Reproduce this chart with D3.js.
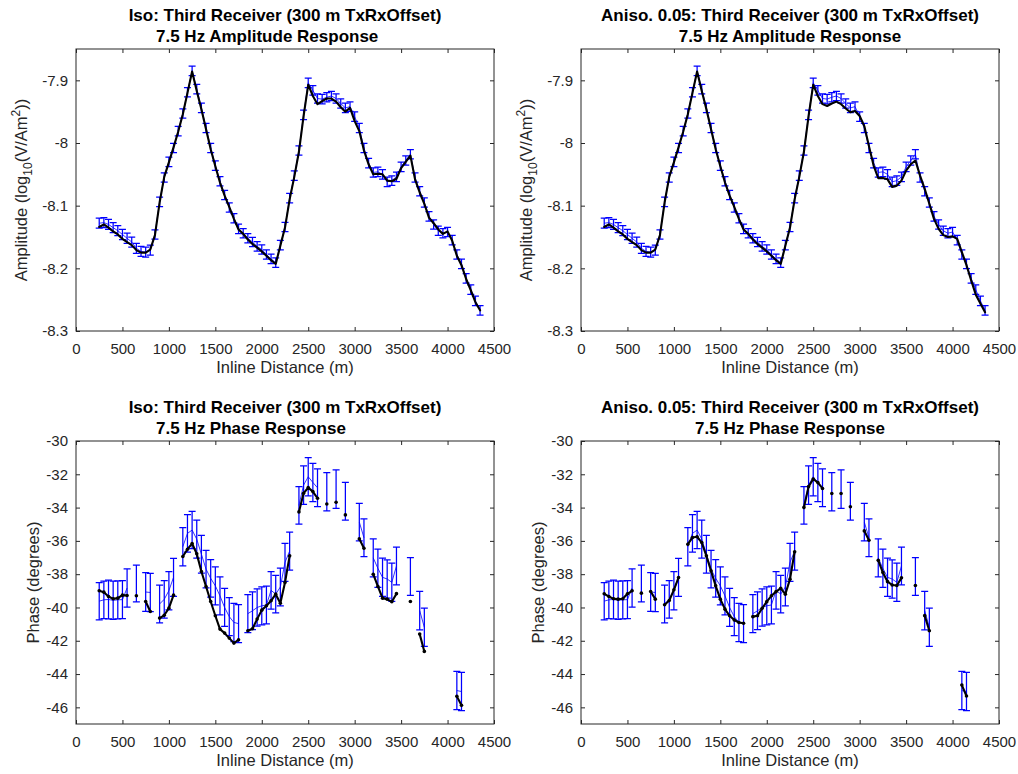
<!DOCTYPE html>
<html>
<head>
<meta charset="utf-8">
<script src="https://cdn.jsdelivr.net/npm/d3@7"></script>
<style>
  html, body { margin: 0; padding: 0; background: #fff; }
  svg { display: block; font-family: "Liberation Sans", Arial, Helvetica, sans-serif; }
</style>
</head>
<body>
<svg id="fig" width="1018" height="774"></svg>
<script>
// ---- Amplitude response (log10 V/Am^2) along the inline profile ----
const ampDistance = [
  250, 300, 350, 400, 450, 500, 550, 600, 650, 700,
  750, 800, 850, 900, 950, 1000, 1050, 1100, 1150, 1200,
  1250, 1300, 1350, 1400, 1450, 1500, 1550, 1600, 1650, 1700,
  1750, 1800, 1850, 1900, 1950, 2000, 2050, 2100, 2150, 2200,
  2250, 2300, 2350, 2400, 2450, 2500, 2550, 2600, 2650, 2700,
  2750, 2800, 2850, 2900, 2950, 3000, 3050, 3100, 3150, 3200,
  3250, 3300, 3350, 3400, 3450, 3500, 3550, 3600, 3650, 3700,
  3750, 3800, 3850, 3900, 3950, 4000, 4050, 4100, 4150, 4200,
  4250, 4300, 4350
];
const ampObserved = [
  -8.128, -8.127, -8.130, -8.135, -8.140, -8.146, -8.152, -8.158, -8.168, -8.173,
  -8.174, -8.171, -8.146, -8.094, -8.055, -8.030, -8.008, -7.981, -7.953, -7.919,
  -7.885, -7.914, -7.944, -7.976, -8.008, -8.036, -8.061, -8.083, -8.103, -8.120,
  -8.137, -8.144, -8.152, -8.158, -8.165, -8.170, -8.178, -8.185, -8.191, -8.163,
  -8.134, -8.088, -8.052, -8.012, -7.955, -7.904, -7.916, -7.929, -7.930, -7.927,
  -7.925, -7.929, -7.937, -7.944, -7.942, -7.958, -7.976, -8.008, -8.032, -8.047,
  -8.046, -8.050, -8.062, -8.060, -8.054, -8.038, -8.028, -8.018, -8.055, -8.077,
  -8.095, -8.117, -8.130, -8.140, -8.144, -8.142, -8.155, -8.178, -8.193, -8.216,
  -8.234, -8.252, -8.267
];
const ampError = [
  0.008, 0.008, 0.008, 0.008, 0.008, 0.008, 0.008, 0.008, 0.008, 0.008,
  0.008, 0.008, 0.0075, 0.0075, 0.0075, 0.0075, 0.0075, 0.0075, 0.0075, 0.0075,
  0.0075, 0.0075, 0.0075, 0.0075, 0.0075, 0.0075, 0.0075, 0.0075, 0.0075, 0.0075,
  0.0075, 0.0075, 0.0075, 0.0075, 0.0075, 0.0075, 0.0075, 0.0075, 0.0075, 0.0075,
  0.0075, 0.0075, 0.0075, 0.0075, 0.0075, 0.0075, 0.0075, 0.0075, 0.0075, 0.0075,
  0.0075, 0.0075, 0.0075, 0.0075, 0.0075, 0.0075, 0.0075, 0.0075, 0.0075, 0.0075,
  0.0075, 0.0075, 0.0075, 0.0075, 0.0075, 0.0075, 0.0075, 0.0075, 0.0075, 0.0075,
  0.0075, 0.0075, 0.0075, 0.0075, 0.0075, 0.0075, 0.0075, 0.0075, 0.0075, 0.0075,
  0.0075, 0.0075, 0.0075
];
const ampIso = [
  -8.134, -8.130, -8.135, -8.141, -8.146, -8.153, -8.158, -8.163, -8.171, -8.175,
  -8.175, -8.170, -8.147, -8.095, -8.054, -8.031, -8.007, -7.982, -7.954, -7.920,
  -7.886, -7.917, -7.946, -7.978, -8.010, -8.037, -8.063, -8.084, -8.102, -8.121,
  -8.138, -8.145, -8.154, -8.161, -8.167, -8.173, -8.180, -8.187, -8.193, -8.164,
  -8.135, -8.090, -8.054, -8.014, -7.957, -7.907, -7.925, -7.938, -7.933, -7.929,
  -7.929, -7.934, -7.943, -7.950, -7.944, -7.965, -7.981, -8.012, -8.034, -8.050,
  -8.049, -8.050, -8.060, -8.061, -8.057, -8.040, -8.030, -8.020, -8.058, -8.079,
  -8.097, -8.119, -8.128, -8.138, -8.145, -8.141, -8.156, -8.180, -8.195, -8.217,
  -8.235, -8.254, -8.267
];
const ampAniso = [
  -8.134, -8.130, -8.135, -8.141, -8.146, -8.153, -8.158, -8.163, -8.171, -8.175,
  -8.175, -8.170, -8.147, -8.095, -8.054, -8.031, -8.007, -7.982, -7.954, -7.920,
  -7.886, -7.917, -7.946, -7.978, -8.010, -8.037, -8.063, -8.084, -8.102, -8.121,
  -8.138, -8.145, -8.154, -8.161, -8.167, -8.173, -8.180, -8.187, -8.193, -8.164,
  -8.135, -8.090, -8.054, -8.014, -7.957, -7.907, -7.925, -7.938, -7.941, -7.937,
  -7.934, -7.938, -7.945, -7.951, -7.949, -7.957, -7.973, -8.005, -8.036, -8.056,
  -8.056, -8.058, -8.070, -8.068, -8.060, -8.044, -8.034, -8.028, -8.052, -8.073,
  -8.097, -8.121, -8.137, -8.147, -8.150, -8.149, -8.153, -8.174, -8.195, -8.219,
  -8.242, -8.256, -8.270
];
const ampTicks = [-8.3, -8.2, -8.1, -8, -7.9];

// ---- Phase response (degrees); null where no reading was kept ----
const phaseDistance = [
  250, 300, 350, 400, 450, 500, 550, 600, 650, 700,
  750, 800, 850, 900, 950, 1000, 1050, 1100, 1150, 1200,
  1250, 1300, 1350, 1400, 1450, 1500, 1550, 1600, 1650, 1700,
  1750, 1800, 1850, 1900, 1950, 2000, 2050, 2100, 2150, 2200,
  2250, 2300, 2350, 2400, 2450, 2500, 2550, 2600, 2650, 2700,
  2750, 2800, 2850, 2900, 2950, 3000, 3050, 3100, 3150, 3200,
  3250, 3300, 3350, 3400, 3450, 3500, 3550, 3600, 3650, 3700,
  3750, 3800, 3850, 3900, 3950, 4000, 4050, 4100, 4150
];
const phaseObserved = [
  -39.62, -39.54, -39.52, -39.57, -39.54, -39.53, -38.83, null, -38.56, null,
  -39.07, -39.10, null, -39.79, -39.51, -38.99, -38.19, null, -36.35, -35.55,
  -35.35, -35.90, -36.80, -37.70, -38.25, -38.70, -39.30, -40.00, -40.55, -40.90,
  -40.97, null, -40.37, -40.20, -40.00, -39.90, -39.85, -38.97, -39.20, -38.77,
  -37.29, -36.61, null, -33.87, -32.65, -32.15, -32.49, -32.81, null, -33.05,
  null, -32.89, null, -33.62, null, null, -34.87, -35.81, null, -37.02,
  -37.65, -38.19, -38.29, -38.49, -37.51, null, null, -38.14, null, -40.19,
  -41.19, null, null, null, null, null, null, -44.99, -45.05
];
const phaseError = [
  1.12, 1.13, 1.16, 1.15, 1.14, 1.14, 1.15, null, 1.10, null,
  1.16, 1.15, null, 1.13, 1.13, 1.15, 1.14, null, 1.15, 1.13,
  1.12, 1.14, 1.13, 1.13, 1.13, 1.14, 1.14, 1.14, 1.14, 1.15,
  1.14, null, 1.14, 1.13, 1.12, 1.14, 1.13, 1.13, 1.13, 1.14,
  1.14, 1.14, null, 1.13, 1.15, 1.15, 1.15, 1.13, null, 1.15,
  null, 1.15, null, 1.14, null, null, 1.13, 1.13, null, 1.14,
  1.15, 1.15, 1.15, 1.15, 1.13, null, null, 1.14, null, 1.15,
  1.15, null, null, null, null, null, null, 1.15, 1.15
];
const phaseIso = [
  -39.00, -39.08, -39.34, -39.48, -39.44, -39.26, -39.28, null, -39.30, null,
  -39.64, -40.24, null, -40.64, -40.47, -40.04, -39.26, null, -36.94, -36.50,
  -36.16, -36.78, -37.84, -38.74, -39.64, -40.50, -41.30, -41.54, -41.84, -42.14,
  -41.94, null, -41.40, -41.28, -40.70, -40.16, -39.90, -39.60, -39.20, -39.75,
  -38.50, -36.90, null, -34.26, -33.14, -32.80, -33.04, -33.44, null, -33.78,
  null, -33.68, null, -34.44, null, null, -35.88, -36.44, null, -38.00,
  -38.74, -39.44, -39.50, -39.66, -39.17, null, null, -39.64, null, -41.60,
  -42.64, null, null, null, null, null, null, -45.34, -45.88
];
const phaseAniso = [
  -39.18, -39.34, -39.48, -39.50, -39.48, -39.18, -39.00, null, -39.14, null,
  -39.04, -39.50, null, -39.84, -39.58, -38.94, -38.20, null, -36.20, -35.80,
  -35.75, -36.10, -36.90, -37.80, -38.70, -39.50, -40.10, -40.50, -40.75, -40.90,
  -40.95, null, -40.55, -40.50, -40.05, -39.65, -39.30, -39.05, -38.85, -39.20,
  -38.30, -36.65, null, -33.99, -32.74, -32.28, -32.50, -32.85, null, -33.15,
  null, -33.15, null, -33.95, null, null, -35.40, -35.96, null, -37.17,
  -37.90, -38.45, -38.65, -38.68, -38.22, null, null, -38.68, null, -40.49,
  -41.40, null, null, null, null, null, null, -44.66, -45.32
];
const phaseTicks = [-46, -44, -42, -40, -38, -36, -34, -32, -30];
const distanceTicks = [0, 500, 1000, 1500, 2000, 2500, 3000, 3500, 4000, 4500];

// ---- drawing ----
const svg = d3.select('#fig');
const AXIS = '#262626';
const BLUE = '#0000ff';
const TICK_FONT = 15;
const LABEL_FONT = 16.5;
const TITLE_FONT = 17;

const panels = [
  { box: [76, 494, 49, 331], domain: [-8.3, -7.85], ticks: ampTicks,
    dist: ampDistance, obs: ampObserved, err: ampError, model: ampIso, markers: false,
    title: ['Iso: Third Receiver (300 m TxRxOffset)', '7.5 Hz Amplitude Response'],
    titleY: 21, line2: { x: 156, anchor: 'start' }, ylabel: 'amp', ylabelX: 27 },
  { box: [581, 999, 49, 331], domain: [-8.3, -7.85], ticks: ampTicks,
    dist: ampDistance, obs: ampObserved, err: ampError, model: ampAniso, markers: false,
    title: ['Aniso. 0.05: Third Receiver (300 m TxRxOffset)', '7.5 Hz Amplitude Response'],
    titleY: 21, line2: null, ylabel: 'amp', ylabelX: 532 },
  { box: [76, 494, 441, 724], domain: [-47, -30], ticks: phaseTicks,
    dist: phaseDistance, obs: phaseObserved, err: phaseError, model: phaseIso, markers: true,
    title: ['Iso: Third Receiver (300 m TxRxOffset)', '7.5 Hz Phase Response'],
    titleY: 413, line2: { x: 156, anchor: 'start' }, ylabel: 'phase', ylabelX: 39 },
  { box: [581, 999, 441, 724], domain: [-47, -30], ticks: phaseTicks,
    dist: phaseDistance, obs: phaseObserved, err: phaseError, model: phaseAniso, markers: true,
    title: ['Aniso. 0.05: Third Receiver (300 m TxRxOffset)', '7.5 Hz Phase Response'],
    titleY: 413, line2: null, ylabel: 'phase', ylabelX: 544 }
];

function styleAxis(g) {
  g.select('.domain').remove();
  g.selectAll('.tick line').attr('stroke', AXIS).attr('stroke-width', 1);
  g.selectAll('.tick text').attr('fill', AXIS).attr('font-size', TICK_FONT)
    .attr('font-family', '"Liberation Sans", Arial, Helvetica, sans-serif');
}

panels.forEach(p => {
  const [x0, x1, y0, y1] = p.box;
  const x = d3.scaleLinear().domain([0, 4500]).range([x0, x1]);
  const y = d3.scaleLinear().domain(p.domain).range([y1, y0]);
  const g = svg.append('g');

  // axes: ticks point inward on all four sides, labels bottom and left
  g.append('g').attr('transform', `translate(0,${y1})`)
    .call(d3.axisBottom(x).tickValues(distanceTicks).tickSizeInner(-4).tickSizeOuter(0).tickPadding(12)
      .tickFormat(d3.format('d')))
    .call(styleAxis);
  g.append('g').attr('transform', `translate(0,${y0})`)
    .call(d3.axisTop(x).tickValues(distanceTicks).tickSizeInner(-4).tickSizeOuter(0).tickFormat(''))
    .call(styleAxis);
  g.append('g').attr('transform', `translate(${x0},0)`)
    .call(d3.axisLeft(y).tickValues(p.ticks).tickSizeInner(-4).tickSizeOuter(0).tickPadding(8)
      .tickFormat(v => String(+v.toFixed(4))))
    .call(styleAxis);
  g.append('g').attr('transform', `translate(${x1},0)`)
    .call(d3.axisRight(y).tickValues(p.ticks).tickSizeInner(-4).tickSizeOuter(0).tickFormat(''))
    .call(styleAxis);
  g.append('rect')
    .attr('x', x0).attr('y', y0).attr('width', x1 - x0).attr('height', y1 - y0)
    .attr('fill', 'none').attr('stroke', AXIS).attr('stroke-width', 1);

  const rows = p.dist.map((d, i) => ({ d, obs: p.obs[i], err: p.err[i], m: p.model[i] }));
  const plot = g.append('g');

  // observed values: thin line through the means plus error bars
  plot.append('path')
    .attr('d', d3.line().defined(r => r.obs != null).x(r => x(r.d)).y(r => y(r.obs))(rows))
    .attr('fill', 'none').attr('stroke', BLUE).attr('stroke-width', 0.8);
  const cap = 3.5;
  plot.append('g').selectAll('path')
    .data(rows.filter(r => r.obs != null))
    .join('path')
    .attr('d', r => {
      const cx = x(r.d), lo = y(r.obs - r.err), hi = y(r.obs + r.err);
      return `M${cx},${lo}V${hi}M${cx - cap},${lo}H${cx + cap}M${cx - cap},${hi}H${cx + cap}`;
    })
    .attr('fill', 'none').attr('stroke', BLUE).attr('stroke-width', 1.25);

  // modelled response
  plot.append('path')
    .attr('d', d3.line().defined(r => r.m != null).x(r => x(r.d)).y(r => y(r.m))(rows))
    .attr('fill', 'none').attr('stroke', '#000').attr('stroke-width', 2.1)
    .attr('stroke-linejoin', 'round').attr('stroke-linecap', 'round');
  if (p.markers) {
    plot.append('g').selectAll('circle')
      .data(rows.filter(r => r.m != null))
      .join('circle')
      .attr('cx', r => x(r.d)).attr('cy', r => y(r.m)).attr('r', 1.8).attr('fill', '#000');
  }

  // titles
  const cx = (x0 + x1) / 2;
  g.append('text').attr('x', cx).attr('y', p.titleY).attr('text-anchor', 'middle')
    .attr('font-size', TITLE_FONT).attr('font-weight', 'bold').attr('fill', '#000')
    .text(p.title[0]);
  g.append('text')
    .attr('x', p.line2 ? p.line2.x : cx).attr('y', p.titleY + 21)
    .attr('text-anchor', p.line2 ? p.line2.anchor : 'middle')
    .attr('font-size', TITLE_FONT).attr('font-weight', 'bold').attr('fill', '#000')
    .text(p.title[1]);

  // x label
  g.append('text').attr('x', cx).attr('y', y1 + 42).attr('text-anchor', 'middle')
    .attr('font-size', LABEL_FONT).attr('fill', AXIS).text('Inline Distance (m)');

  // y label
  const yl = g.append('text')
    .attr('transform', `translate(${p.ylabelX},${(y0 + y1) / 2}) rotate(-90)`)
    .attr('text-anchor', 'middle').attr('font-size', LABEL_FONT).attr('fill', AXIS);
  if (p.ylabel === 'amp') {
    yl.append('tspan').text('Amplitude (log');
    yl.append('tspan').attr('dy', 5).attr('font-size', 12).text('10');
    yl.append('tspan').attr('dy', -5).text('(V/Am');
    yl.append('tspan').attr('dy', -7).attr('font-size', 12).text('2');
    yl.append('tspan').attr('dy', 7).text('))');
  } else {
    yl.text('Phase (degrees)');
  }
});
</script>
</body>
</html>
